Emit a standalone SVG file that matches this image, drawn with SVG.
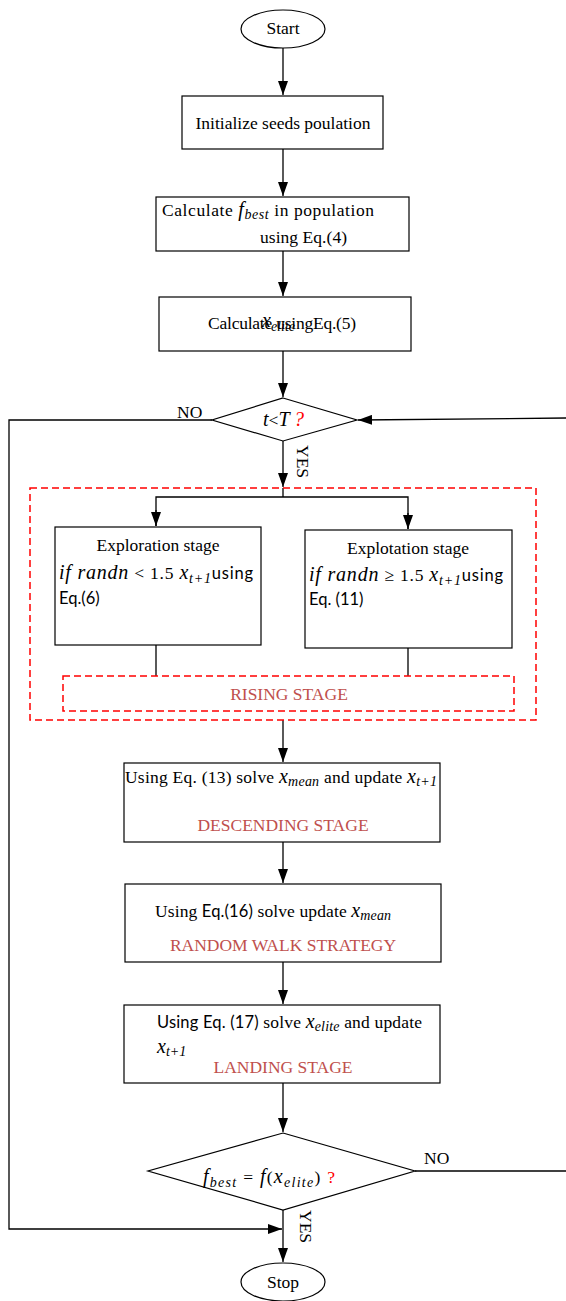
<svg xmlns="http://www.w3.org/2000/svg" width="566" height="1301" viewBox="0 0 566 1301">
<style>
.box{fill:#fff;stroke:#000;stroke-width:1.2}
.ln{fill:none;stroke:#000;stroke-width:1.3}
.dash{fill:none;stroke:#ff0000;stroke-width:1.5;stroke-dasharray:7,4}
.t{font-family:"Liberation Serif",serif;font-size:17.5px;fill:#000}
.m{font-family:"Liberation Serif",serif;font-style:italic;font-size:20px}
.s{font-family:"Liberation Serif",serif;font-style:italic;font-size:14px}
.c{font-family:Lato,"Open Sans",sans-serif;font-size:16.5px}
.red{fill:#c0504d}
.q{fill:#ff0000}
.mid{text-anchor:middle}
</style>
<defs>
<marker id="ahb" viewBox="0 0 14 10" refX="14" refY="5" markerWidth="14" markerHeight="10" markerUnits="userSpaceOnUse" orient="auto">
<path d="M0,0 L14,5 L0,10 z" fill="#000"/>
</marker>
</defs>

<g id="connectors">
<line class="ln" x1="283" y1="48" x2="283" y2="95" marker-end="url(#ahb)"/>
<line class="ln" x1="283" y1="149" x2="283" y2="196" marker-end="url(#ahb)"/>
<line class="ln" x1="283" y1="251" x2="283" y2="296" marker-end="url(#ahb)"/>
<line class="ln" x1="283" y1="351" x2="283" y2="397" marker-end="url(#ahb)"/>
<line class="ln" x1="283" y1="441" x2="283" y2="487" marker-end="url(#ahb)"/>
<polyline class="ln" points="212,420 9,420 9,1229 282,1229" marker-end="url(#ahb)"/>
<line class="ln" x1="566" y1="418" x2="358" y2="420" marker-end="url(#ahb)"/>
<line class="ln" x1="283" y1="488" x2="283" y2="497"/>
<polyline class="ln" points="156,526 156,497 408,497 408,529"/>
<line class="ln" x1="156" y1="510" x2="156" y2="526" marker-end="url(#ahb)"/>
<line class="ln" x1="408" y1="513" x2="408" y2="529" marker-end="url(#ahb)"/>
<line class="ln" x1="156" y1="645" x2="156" y2="676"/>
<line class="ln" x1="408" y1="648" x2="408" y2="676"/>
<line class="ln" x1="283" y1="720" x2="283" y2="762" marker-end="url(#ahb)"/>
<line class="ln" x1="283" y1="842" x2="283" y2="883" marker-end="url(#ahb)"/>
<line class="ln" x1="283" y1="962" x2="283" y2="1004" marker-end="url(#ahb)"/>
<line class="ln" x1="283" y1="1083" x2="283" y2="1132" marker-end="url(#ahb)"/>
<line class="ln" x1="415" y1="1171" x2="566" y2="1171"/>
<line class="ln" x1="283" y1="1210" x2="283" y2="1262" marker-end="url(#ahb)"/>
<text class="t" x="177" y="418">NO</text>
<text class="t" x="424" y="1164">NO</text>
<text class="t" transform="translate(297,445) rotate(90)">YES</text>
<text class="t" transform="translate(300,1210) rotate(90)">YES</text>
</g>

<g id="start">
<ellipse class="box" cx="283" cy="29" rx="42" ry="19"/>
<text class="t mid" x="283" y="34">Start</text>
</g>

<g id="init">
<rect class="box" x="182" y="96" width="201" height="53"/>
<text class="t mid" x="283" y="129">Initialize seeds poulation</text>
</g>

<g id="fbest">
<rect class="box" x="156" y="197" width="253" height="54"/>
<text class="t" x="162" y="216" font-size="18.5" textLength="212" lengthAdjust="spacing">Calculate <tspan class="m">f</tspan><tspan class="s" dy="3">best</tspan><tspan dy="-3"> in population</tspan></text>
<text class="t" x="260" y="243" font-size="18.5" textLength="87" lengthAdjust="spacing">using Eq.(4)</text>
</g>

<g id="elite">
<rect class="box" x="159" y="297" width="252" height="54"/>
<text class="t" x="208" y="329" textLength="148" lengthAdjust="spacing">Calculate usingEq.(5)</text>
<text class="t" x="262" y="327"><tspan class="m">x</tspan><tspan class="s" dy="4">elite</tspan></text>
</g>

<g id="cond1">
<polygon class="box" points="283,398 357,420 283,441 212,420"/>
<text class="t" x="263" y="426"><tspan class="m" font-size="17.5">t</tspan>&lt;<tspan class="m" font-size="17.5">T</tspan> <tspan class="m q" font-size="17.5">?</tspan></text>
</g>

<g id="rising">
<rect class="dash" x="30" y="488" width="506" height="232"/>
<rect class="dash" x="63" y="676" width="451" height="35"/>
<text class="t red mid" x="289" y="700">RISING STAGE</text>
</g>

<g id="exploration">
<rect class="box" x="55" y="527" width="206" height="118"/>
<text class="t mid" x="158" y="551">Exploration stage</text>
<text class="t" x="59" y="579" textLength="194" lengthAdjust="spacing"><tspan class="m">if randn</tspan> &lt; 1.5 <tspan class="m">x</tspan><tspan class="s" dy="4">t+1</tspan><tspan class="c" dy="-4">using</tspan></text>
<text class="t c" x="59" y="604">Eq.(6)</text>
</g>

<g id="exploitation">
<rect class="box" x="305" y="530" width="207" height="118"/>
<text class="t mid" x="408" y="554">Explotation stage</text>
<text class="t" x="309" y="581" textLength="194" lengthAdjust="spacing"><tspan class="m">if randn</tspan> ≥ 1.5 <tspan class="m">x</tspan><tspan class="s" dy="4">t+1</tspan><tspan class="c" dy="-4">using</tspan></text>
<text class="t c" x="309" y="605">Eq. (11)</text>
</g>

<g id="descending">
<rect class="box" x="124" y="763" width="316" height="79"/>
<text class="t" x="125" y="783" textLength="312" lengthAdjust="spacing">Using Eq. (13) solve <tspan class="m">x</tspan><tspan class="s" dy="3">mean</tspan><tspan dy="-3"> and update </tspan><tspan class="m">x</tspan><tspan class="s" dy="3">t+1</tspan></text>
<text class="t red mid" x="283" y="831">DESCENDING STAGE</text>
</g>

<g id="randomwalk">
<rect class="box" x="125" y="884" width="316" height="78"/>
<text class="t" x="155" y="917" textLength="236" lengthAdjust="spacing">Using <tspan class="c">Eq.(16)</tspan> solve update <tspan class="m">x</tspan><tspan class="s" dy="3">mean</tspan></text>
<text class="t red mid" x="283" y="951">RANDOM WALK STRATEGY</text>
</g>

<g id="landing">
<rect class="box" x="124" y="1005" width="316" height="78"/>
<text class="t" x="157" y="1028" textLength="265" lengthAdjust="spacing"><tspan class="c">Using Eq. (17)</tspan> solve <tspan class="m">x</tspan><tspan class="s" dy="3">elite</tspan><tspan dy="-3"> and update</tspan></text>
<text class="t" x="157" y="1053"><tspan class="m">x</tspan><tspan class="s" dy="3">t+1</tspan></text>
<text class="t red mid" x="283" y="1073">LANDING STAGE</text>
</g>

<g id="cond2">
<polygon class="box" points="283,1133 415,1171 283,1210 148,1171"/>
<text class="t" x="203" y="1183" textLength="132" lengthAdjust="spacing"><tspan class="m">f</tspan><tspan class="s" dy="4">best</tspan><tspan dy="-4"> = </tspan><tspan class="m">f</tspan>(<tspan class="m">x</tspan><tspan class="s" dy="4">elite</tspan><tspan dy="-4">) </tspan><tspan class="q">?</tspan></text>
</g>

<g id="stop">
<ellipse class="box" cx="283" cy="1282" rx="42" ry="19"/>
<text class="t mid" x="283" y="1288">Stop</text>
</g>
</svg>
